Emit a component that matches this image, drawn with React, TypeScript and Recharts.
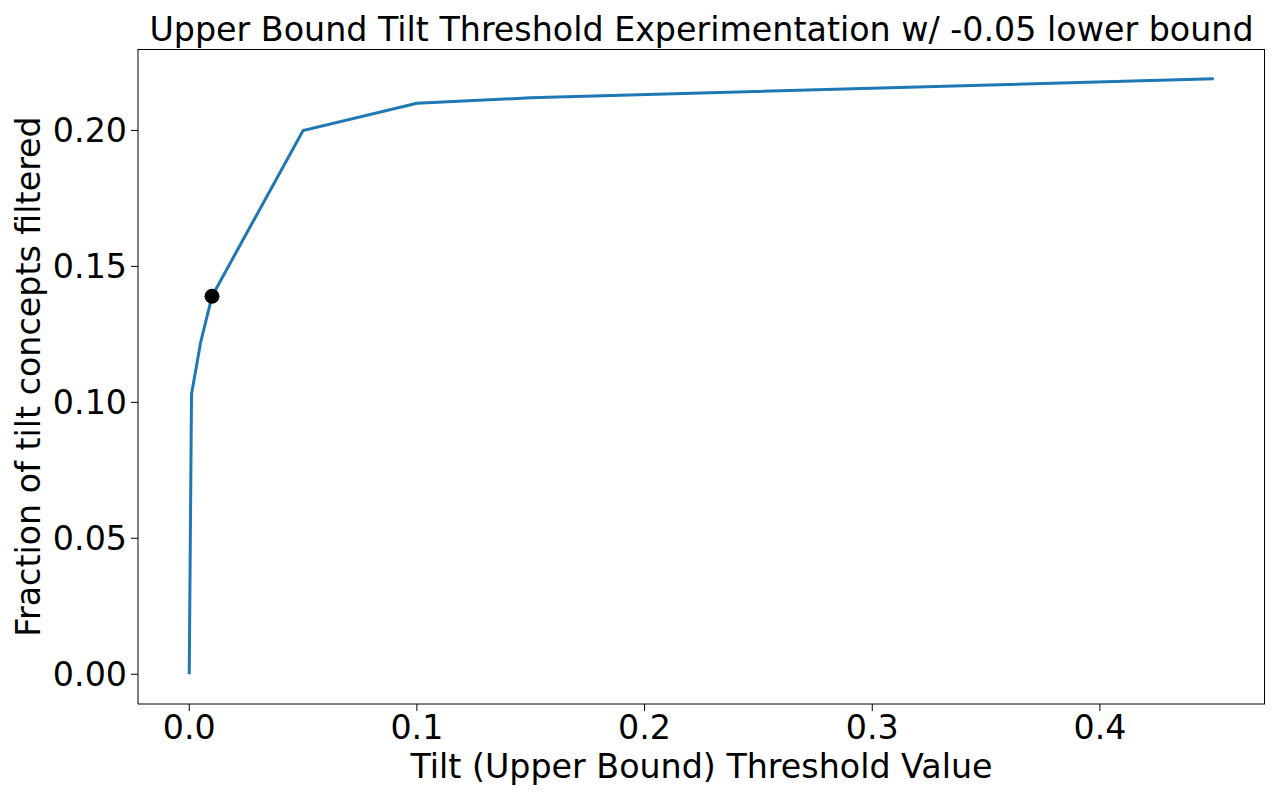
import React from "react";
import {
	ComposedChart,
	Line,
	XAxis,
	YAxis,
	ReferenceDot,
	Label,
} from "recharts";

const thresholds = [0, 0.001, 0.005, 0.01, 0.05, 0.1, 0.15, 0.45];
const fractionFiltered = [0, 0.103, 0.122, 0.139, 0.2, 0.21, 0.212, 0.219];
const chosenThreshold = 0.01;
const chosenFraction = 0.139;
const xTicks = [0, 0.1, 0.2, 0.3, 0.4];
const yTicks = [0, 0.05, 0.1, 0.15, 0.2];

const data = thresholds.map((t, i) => ({ x: t, y: fractionFiltered[i] }));

const font = "'DejaVu Sans', sans-serif";
const fs = 33.3;
const tickStyle = { fontSize: fs, fill: "#000", fontFamily: font };

export default function App() {
	return (
		<div style={{ position: "absolute", left: 0, top: 0, width: 1280, height: 800, background: "#fff" }}>
			<div
				style={{
					position: "absolute",
					left: 138,
					width: 1127,
					top: 10,
					textAlign: "center",
					fontFamily: font,
					fontSize: fs,
					lineHeight: "40px",
					color: "#000",
				}}
			>
				Upper Bound Tilt Threshold Experimentation w/ -0.05 lower bound
			</div>
			<ComposedChart
				width={1280}
				height={800}
				data={data}
				margin={{ top: 49, right: 15, bottom: 0, left: 0 }}
			>
				<XAxis
					dataKey="x"
					type="number"
					domain={[-0.0225, 0.4725]}
					allowDataOverflow
					ticks={xTicks}
					tickFormatter={(v: number) => v.toFixed(1)}
					tick={tickStyle}
					tickSize={7}
					tickMargin={4}
					height={96}
					stroke="#000"
					tickLine={{ stroke: "#000" }}
				>
					<Label
						value="Tilt (Upper Bound) Threshold Value"
						position="insideBottom"
						offset={22}
						style={{ fontSize: fs, fill: "#000", fontFamily: font }}
					/>
				</XAxis>
				<YAxis
					dataKey="y"
					type="number"
					domain={[-0.01095, 0.22995]}
					allowDataOverflow
					ticks={yTicks}
					tickFormatter={(v: number) => v.toFixed(2)}
					tick={tickStyle}
					tickSize={7}
					tickMargin={4}
					width={138}
					stroke="#000"
					tickLine={{ stroke: "#000" }}
				>
					<Label
						value="Fraction of tilt concepts filtered"
						angle={-90}
						position="insideLeft"
						offset={28}
						style={{ fontSize: fs, fill: "#000", fontFamily: font, textAnchor: "middle" }}
					/>
				</YAxis>
				<Line
					type="linear"
					dataKey="y"
					stroke="#1f77b4"
					strokeWidth={3}
					dot={false}
					activeDot={false}
					isAnimationActive={false}
				/>
				<ReferenceDot
					x={chosenThreshold}
					y={chosenFraction}
					r={7.5}
					fill="#000"
					stroke="none"
				/>
			</ComposedChart>
			<div
				style={{
					position: "absolute",
					left: 138,
					top: 49,
					width: 1127,
					height: 655,
					borderTop: "1px solid #000",
					borderRight: "1px solid #000",
					boxSizing: "border-box",
					pointerEvents: "none",
				}}
			/>
		</div>
	);
}
